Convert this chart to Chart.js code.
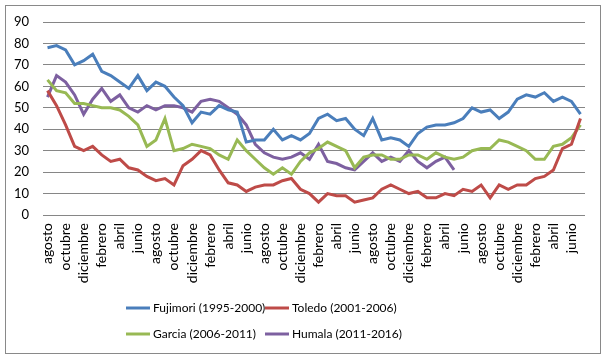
<!DOCTYPE html>
<html>
<head>
<meta charset="utf-8">
<script src="https://cdn.jsdelivr.net/npm/chart.js@4/dist/chart.umd.min.js"></script>
<style>
  body { margin: 0; background: #fff; }
  #wrap { width: 606px; height: 359px; }
</style>
</head>
<body>
<div id="wrap"><canvas id="approval" width="606" height="359"></canvas></div>
<script>
// Aprobación presidencial por mes (agosto a julio, 5 años)

const monthNames = ['agosto', 'septiembre', 'octubre', 'noviembre', 'diciembre', 'enero',
    'febrero', 'marzo', 'abril', 'mayo', 'junio', 'julio'];
const months = [].concat(monthNames, monthNames, monthNames, monthNames, monthNames);

const yTicks = [0, 10, 20, 30, 40, 50, 60, 70, 80, 90];

const fujimori = [78, 79, 77, 70, 72, 75, 67, 65, 62, 59, 65, 58, 62, 60, 55, 51, 43, 48, 47, 51,
    49, 48, 34, 35, 35, 40, 35, 37, 35, 38, 45, 47, 44, 45, 40, 37, 45, 35, 36, 35,
    32, 38, 41, 42, 42, 43, 45, 50, 48, 49, 45, 48, 54, 56, 55, 57, 53, 55, 53, 47];
const toledo = [58, 51, 42, 32, 30, 32, 28, 25, 26, 22, 21, 18, 16, 17, 14, 23, 26, 30, 28, 21,
    15, 14, 11, 13, 14, 14, 16, 17, 12, 10, 6, 10, 9, 9, 6, 7, 8, 12, 14, 12,
    10, 11, 8, 8, 10, 9, 12, 11, 14, 8, 14, 12, 14, 14, 17, 18, 21, 31, 33, 45];
const garcia = [63, 58, 57, 52, 52, 51, 50, 50, 49, 46, 42, 32, 35, 45, 30, 31, 33, 32, 31, 28,
    26, 35, 30, 26, 22, 19, 22, 19, 25, 29, 31, 34, 32, 30, 22, 27, 28, 28, 26, 26,
    28, 28, 26, 29, 27, 26, 27, 30, 31, 31, 35, 34, 32, 30, 26, 26, 32, 33, 36, 42];
const humala = [55, 65, 62, 56, 47, 54, 59, 53, 56, 50, 48, 51, 49, 51, 51, 50, 48, 53, 54, 53,
    50, 47, 42, 33, 29, 27, 26, 27, 29, 26, 33, 25, 24, 22, 21, 25, 29, 25, 27, 25,
    30, 25, 22, 25, 27, 21];

const seriesNames = ['Fujimori (1995-2000)', 'Toledo (2001-2006)', 'Garcia (2006-2011)', 'Humala (2011-2016)'];
const seriesColors = ['#4a7ebb', '#be4b48', '#98b954', '#7d60a0'];

const fontFamily = 'Lato, "Noto Sans", sans-serif';

// fondo blanco, marco gris y leyenda en dos filas como en Excel
const framePlugin = {
    id: 'frame',
    beforeDraw(chart) {
        const c = chart.ctx;
        c.save();
        c.fillStyle = '#fff';
        c.fillRect(0, 0, chart.width, chart.height);
        c.restore();
    },
    afterDraw(chart) {
        const c = chart.ctx;
        c.save();
        c.strokeStyle = '#898989';
        c.lineWidth = 1;
        c.strokeRect(5.5, 5.5, 595, 348);

        const cols = [126, 265];
        const rows = [308, 334];
        c.font = '12px ' + fontFamily;
        c.textBaseline = 'middle';
        c.textAlign = 'left';
        chart.data.datasets.forEach((ds, i) => {
            const x = cols[i % 2];
            const y = rows[Math.floor(i / 2)];
            c.strokeStyle = ds.borderColor;
            c.lineWidth = 3;
            c.beginPath();
            c.moveTo(x, y);
            c.lineTo(x + 24, y);
            c.stroke();
            c.fillStyle = '#000';
            c.fillText(ds.label, x + 27, y);
        });
        c.restore();
    }
};

const ctx = document.getElementById('approval').getContext('2d');

const chart = new Chart(ctx, {
    type: 'line',
    data: {
        labels: months,
        datasets: [fujimori, toledo, garcia, humala].map((values, i) => ({
            label: seriesNames[i],
            data: values,
            borderColor: seriesColors[i],
            backgroundColor: seriesColors[i],
            borderWidth: 3,
            pointRadius: 0,
            tension: 0,
            fill: false
        }))
    },
    options: {
        responsive: false,
        animation: false,
        layout: { padding: { left: 5, right: 21, top: 22, bottom: 64 } },
        plugins: {
            legend: { display: false },
            tooltip: { enabled: false }
        },
        scales: {
            x: {
                offset: true,
                grid: { display: false, drawTicks: false },
                border: { display: false },
                ticks: {
                    autoSkip: false,
                    maxRotation: 90,
                    minRotation: 90,
                    padding: 8,
                    color: '#000',
                    font: { family: fontFamily, size: 14 },
                    callback: (value, index) => index % 2 === 0 ? months[index] : ''
                },
                afterFit: (scale) => { scale.height = 80; }
            },
            y: {
                min: yTicks[0],
                max: yTicks[yTicks.length - 1],
                afterBuildTicks: (scale) => { scale.ticks = yTicks.map(v => ({ value: v })); },
                grid: { color: '#868686', lineWidth: 1, drawTicks: false },
                border: { display: false },
                ticks: {
                    padding: 14,
                    color: '#000',
                    font: { family: fontFamily, size: 13 }
                },
                afterFit: (scale) => { scale.width = 38; }
            }
        }
    },
    plugins: [framePlugin]
});
</script>
</body>
</html>
